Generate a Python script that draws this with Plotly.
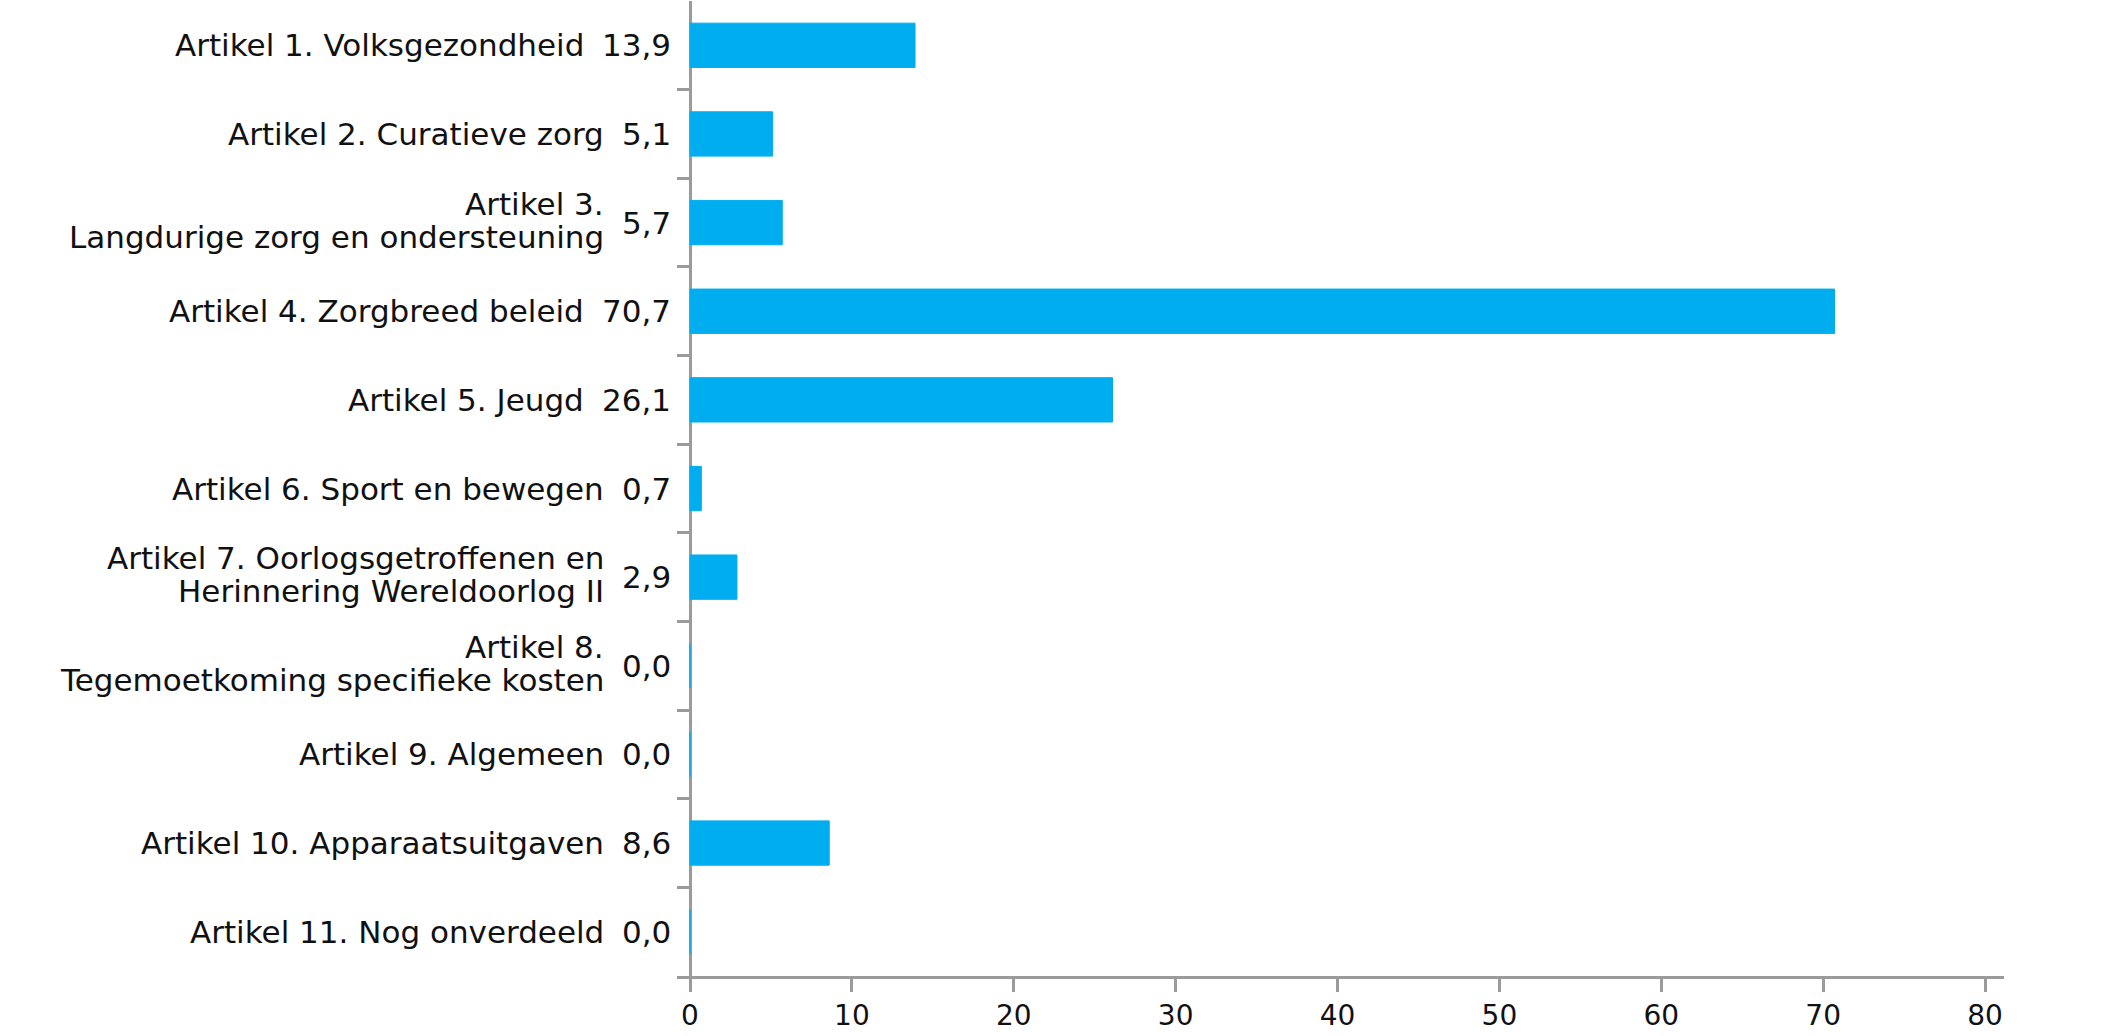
import plotly.graph_objects as go

categories = [
    "Artikel 1. Volksgezondheid",
    "Artikel 2. Curatieve zorg",
    "Artikel 3.<br>Langdurige zorg en ondersteuning",
    "Artikel 4. Zorgbreed beleid",
    "Artikel 5. Jeugd",
    "Artikel 6. Sport en bewegen",
    "Artikel 7. Oorlogsgetroffenen en<br>Herinnering Wereldoorlog II",
    "Artikel 8.<br>Tegemoetkoming specifieke kosten",
    "Artikel 9. Algemeen",
    "Artikel 10. Apparaatsuitgaven",
    "Artikel 11. Nog onverdeeld",
]
values = [13.9, 5.1, 5.7, 70.7, 26.1, 0.7, 2.9, 0.0, 0.0, 8.6, 0.0]
x_ticks = [0, 10, 20, 30, 40, 50, 60, 70, 80]

BAR = "#00AEEF"
AXIS = "#9b9b9b"
TEXT = "#111111"
FONT = "DejaVu Sans"
FS = 31

# approximate DejaVu Sans advance widths (em) for the value labels
def text_width(s, size):
    w = 0.0
    for ch in s:
        w += 0.318 if ch in ",." else 0.636
    return w * size

fig = go.Figure()
fig.add_trace(go.Bar(
    x=values, y=categories, orientation="h",
    marker=dict(color=BAR, line=dict(color=BAR, width=1)),
    width=0.5, hoverinfo="skip",
))

VAL_SHIFT = -17
GAP = 18
annotations = []
for cat, v in zip(categories, values):
    vlab = f"{v:.1f}".replace(".", ",")
    annotations.append(dict(
        x=0, y=cat, xref="x", yref="y", text=vlab, showarrow=False,
        xanchor="right", yanchor="middle", xshift=VAL_SHIFT,
        font=dict(family=FONT, size=FS, color=TEXT),
    ))
    lab_shift = VAL_SHIFT - text_width(vlab, FS) - GAP
    lines = cat.split("<br>")
    n = len(lines)
    for i, ln in enumerate(lines):
        shift = 0 if n == 1 else (19 if i == 0 else -14)
        annotations.append(dict(
            x=0, y=cat, xref="x", yref="y", text=ln, showarrow=False,
            xanchor="right", yanchor="middle", xshift=lab_shift, yshift=shift,
            align="right",
            font=dict(family=FONT, size=FS, color=TEXT),
        ))

fig.update_layout(
    width=2110, height=1036,
    margin=dict(l=677, r=106, t=1, b=60, pad=0),
    paper_bgcolor="white", plot_bgcolor="white",
    showlegend=False,
    annotations=annotations,
    xaxis=dict(
        range=[-0.803, 81.17], tickvals=x_ticks,
        ticktext=[str(t) for t in x_ticks],
        showgrid=False, zeroline=True, zerolinecolor=AXIS, zerolinewidth=2.7,
        showline=True, linecolor=AXIS, linewidth=2.7,
        ticks="outside", ticklen=13, tickwidth=2.5, tickcolor=AXIS,
        tickfont=dict(family=FONT, size=28, color=TEXT),
        fixedrange=True,
    ),
    yaxis=dict(
        autorange="reversed", type="category",
        showticklabels=False, showgrid=False, showline=False, zeroline=False,
        ticks="inside", tickson="boundaries", ticklen=13, tickwidth=2.5,
        tickcolor=AXIS, fixedrange=True,
    ),
)

fig.write_html(
    "out.html",
    config={"displayModeBar": False},
    post_script="document.body.style.margin='0';document.body.style.overflow='hidden';",
)
